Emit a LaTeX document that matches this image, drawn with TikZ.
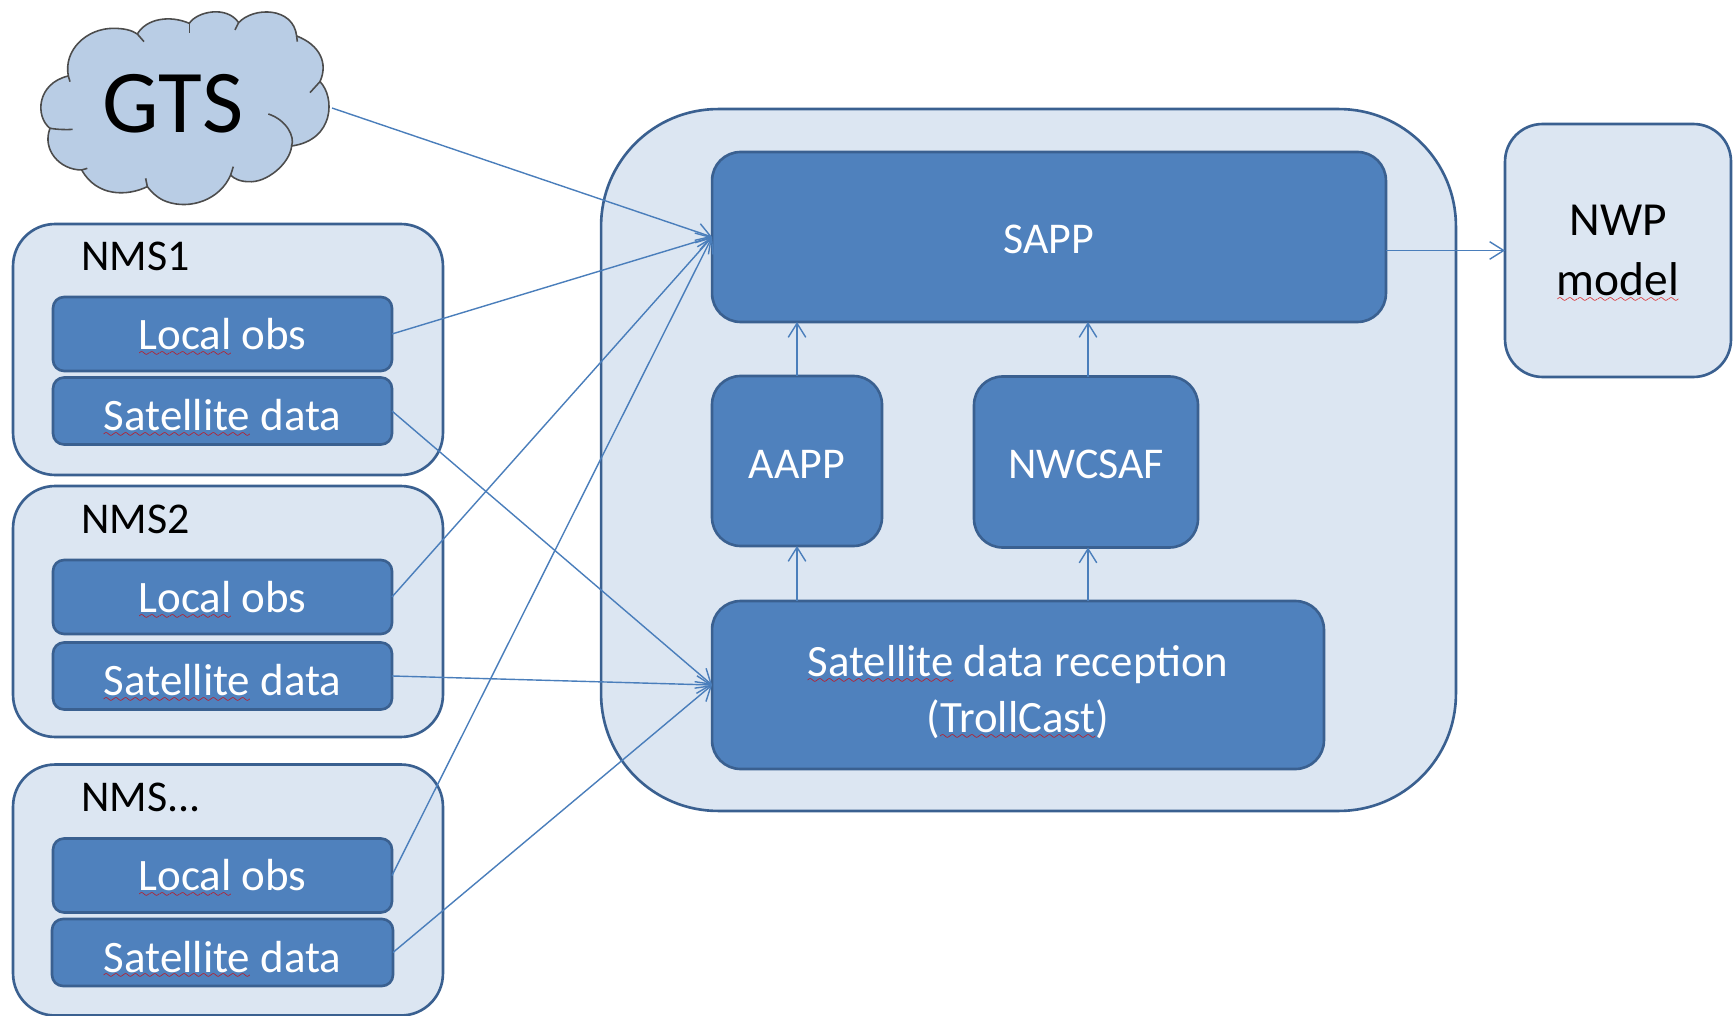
\documentclass[tikz,border=0pt]{standalone}
\usepackage{fontspec}
\setmainfont{Carlito}
\usepackage{tikz}
\usetikzlibrary{arrows.meta, positioning}
\definecolor{paleblue}{HTML}{DCE6F2}
\definecolor{cloudblue}{HTML}{B9CDE5}
\definecolor{boxblue}{HTML}{4F81BD}
\definecolor{edgeblue}{HTML}{3A6090}
\definecolor{lineblue}{HTML}{4A7EBB}
\font\wavefont=lasy7
\newbox\spellbox
\newcommand{\spell}[1]{\leavevmode\setbox\spellbox\hbox{#1}\rlap{\smash{\lower3.8pt\hbox to\wd\spellbox{\color{red!85!black}\xleaders\hbox{\wavefont\char58}\hfill}}}\box\spellbox}
\begin{document}
\begin{tikzpicture} [x=0.02cm, y=-0.02cm, node distance =2 cm and 2cm, on grid,
  outerbox/.style ={draw=edgeblue, fill=paleblue, line width=1.5pt, inner sep=0, outer sep=0},
  innerbox/.style ={draw=edgeblue, fill=boxblue, line width=1.5pt, inner sep=0, outer sep=0, text=white, align=center, font=\fontsize{25}{31}\selectfont},
  localbox/.style ={innerbox, minimum width=6.78cm, minimum height=1.48cm, rounded corners=0.22cm, font=\fontsize{25.6}{31}\selectfont},
  satbox/.style ={innerbox, text height=22.5pt, minimum width=6.78cm, minimum height=1.34cm, rounded corners=0.22cm, font=\fontsize{25.6}{31}\selectfont},
  nmsbox/.style ={outerbox, minimum width=8.6cm, minimum height=5.02cm, rounded corners=0.84cm},
  nmslabel/.style ={anchor=west, inner sep=0, font=\fontsize{25}{31}\selectfont},
  link/.style ={color=lineblue, line width=0.8pt, -{Straight Barb[length=8pt, width=10pt]}}]
\useasboundingbox (0,0) rectangle (1733,1016);
% cloud
\begin{scope}[x=0.02cm/3, y=-0.02cm/3, draw=black!70, line width=0.9pt]
\draw[fill=cloudblue] (205,228) .. controls (190,150) and (260,85) .. (340,85)
  .. controls (370,85) and (395,90) .. (412,102)
  .. controls (440,55) and (510,45) .. (568,70)
  .. controls (590,35) and (680,15) .. (716,68)
  .. controls (760,20) and (880,20) .. (890,108)
  .. controls (960,135) and (985,190) .. (960,245)
  .. controls (1005,290) and (1005,420) .. (875,438)
  .. controls (870,490) and (800,550) .. (745,545)
  .. controls (720,545) and (700,535) .. (692,525)
  .. controls (660,600) and (570,630) .. (500,605)
  .. controls (470,595) and (450,570) .. (442,560)
  .. controls (380,590) and (290,590) .. (245,510)
  .. controls (180,510) and (125,450) .. (150,385)
  .. controls (105,350) and (110,250) .. (205,228) -- cycle;
\draw (205,228) -- (210,245);
\draw (150,385) .. controls (170,388) and (195,390) .. (218,388);
\draw (245,510) -- (262,505);
\draw (442,560) -- (437,535);
\draw (692,525) -- (700,500);
\draw (805,342) .. controls (860,360) and (885,410) .. (875,438);
\draw (960,245) -- (930,278);
\draw (890,108) -- (892,125);
\draw (716,68) -- (705,90);
\draw (568,70) -- (568,100);
\draw (412,102) -- (432,125);
\end{scope}
\node[font=\fontsize{51}{51}\selectfont, inner sep=0] (GTS) at (173,104) {GTS};
\coordinate (GTSout) at (332,108);
% left column
\node[nmsbox] (NMS1) at (228,349.5) {};
\node[nmslabel] (Label1) at (81,256) {NMS1};
\node[localbox] (Local1) at (222.5,334) {\spell{Local} obs};
\node[satbox] (Sat1) [below=1.54cm of Local1] {\spell{Satellite} data};
\node[nmsbox] (NMS2) at (228,611.5) {};
\node[nmslabel] (Label2) at (81,519) {NMS2};
\node[localbox] (Local2) at (222.5,597) {\spell{Local} obs};
\node[satbox] (Sat2) [below=1.58cm of Local2] {\spell{Satellite} data};
\node[nmsbox] (NMS3) at (228,890) {};
\node[nmslabel] (Label3) at (81,797) {NMS...};
\node[localbox] (Local3) at (222.5,875.5) {\spell{Local} obs};
\node[satbox, minimum width=6.82cm] (Sat3) [below=1.54cm of Local3] {\spell{Satellite} data};
% main system
\node[outerbox, minimum width=17.1cm, minimum height=14.04cm, rounded corners=2.34cm] (Main) at (1028.5,460) {};
\node[innerbox, text height=19.5pt, minimum width=13.48cm, minimum height=3.4cm, rounded corners=0.57cm] (SAPP) at (1049,237) {SAPP};
\node[innerbox, text height=19.5pt, minimum width=3.4cm, minimum height=3.4cm, rounded corners=0.57cm] (AAPP) at (797,461) {AAPP};
\node[innerbox, text height=19.5pt, minimum width=4.48cm, minimum height=3.42cm, rounded corners=0.57cm] (NWCSAF) at (1086,462) {NWCSAF};
\node[innerbox, text height=58pt, minimum width=12.24cm, minimum height=3.36cm, rounded corners=0.57cm, font=\fontsize{25.5}{32}\selectfont] (Reception) at (1018,685) {\spell{Satellite} data reception\\(\spell{TrollCast})};
\node[outerbox, minimum width=4.52cm, minimum height=5.06cm, rounded corners=0.75cm, align=center, font=\fontsize{27}{34.5}\selectfont] (NWP) at (1618,250.5) {NWP\\\spell{model}};
% connectors
\path[link] (GTSout) edge (SAPP.west);
\path[link] (Local1.east) edge (SAPP.west);
\path[link] (Local2.east) edge (SAPP.west);
\path[link] (Local3.east) edge (SAPP.west);
\path[link] (Sat1.east) edge (Reception.west);
\path[link] (Sat2.east) edge (Reception.west);
\path[link] (Sat3.east) edge (Reception.west);
\path[link] (AAPP.north) edge (AAPP.north |- SAPP.south);
\path[link] ([xshift=0.04cm]NWCSAF.north) edge ([xshift=0.04cm]NWCSAF.north |- SAPP.south);
\path[link] (AAPP.south |- Reception.north) edge (AAPP.south);
\path[link] ([xshift=0.04cm]NWCSAF.south |- Reception.north) edge ([xshift=0.04cm]NWCSAF.south);
\path[link] (SAPP.east |- NWP.west) edge (NWP.west);
\end{tikzpicture}
\end{document}
